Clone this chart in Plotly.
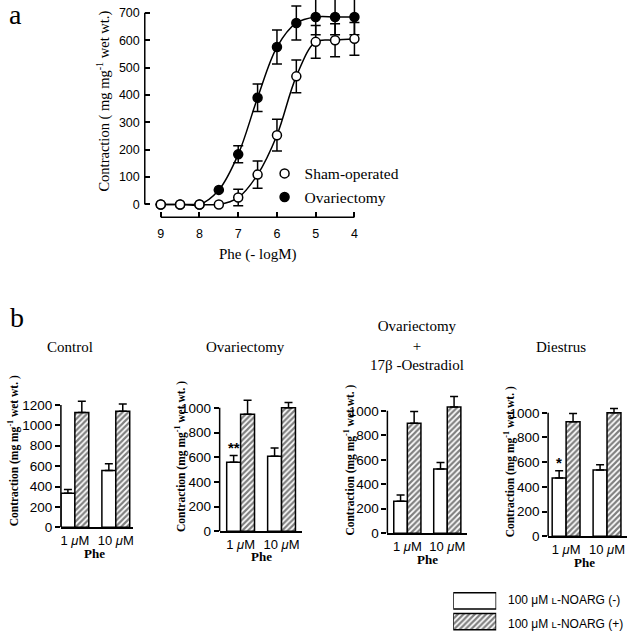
import plotly.graph_objects as go

W, H = 630, 640
SERIF = "Liberation Serif"
SANS = "Liberation Sans"

# ---------------- data: panel a ----------------
phe_log = [9, 8.5, 8, 7.5, 7, 6.5, 6, 5.5, 5, 4.5, 4]
sham = [0, 0, 0, 0, 25, 109, 253, 468, 594, 600, 605]
sham_err = [0, 0, 0, 0, 30, 50, 58, 60, 60, 60, 60]
ovx = [0, 0, 0, 53, 183, 390, 575, 663, 685, 685, 685]
ovx_err = [0, 0, 0, 0, 31, 50, 62, 62, 65, 65, 65]
a_xticks = [9, 8, 7, 6, 5, 4]
a_yticks = [0, 100, 200, 300, 400, 500, 600, 700]

# ---------------- data: panel b ----------------
doses = ["1 μM", "10 μM"]
dose_labels = ["1 <i>μ</i>M", "10 <i>μ</i>M"]
panel_titles = ["Control", "Ovariectomy", "Ovariectomy<br>+<br>17β -Oestradiol", "Diestrus"]
noarg_minus = [[333, 558], [560, 608], [261, 524], [472, 536]]
noarg_minus_err = [[37, 64], [53, 67], [51, 54], [58, 42]]
noarg_plus = [[1125, 1138], [949, 1000], [898, 1030], [928, 1000]]
noarg_plus_err = [[110, 72], [112, 43], [97, 86], [67, 34]]
b_yticks = [[0, 200, 400, 600, 800, 1000, 1200],
            [0, 200, 400, 600, 800, 1000],
            [0, 200, 400, 600, 800, 1000],
            [0, 200, 400, 600, 800, 1000]]
stars = ["", "**", "", "*"]
legend_labels = ["100 μM <span style='font-size:9.5px'>L</span>-NOARG (+)",
                 "100 μM <span style='font-size:9.5px'>L</span>-NOARG (-)"]
swatch_keys = ["(+)", "(-)"]
swatch_vals = [1, 1]


def fx(px):
    return px / W


def fy(py):
    return 1 - py / H


fig = go.Figure()

# ---- panel a: smooth curves through the means ----
for ys in (sham, ovx):
    fig.add_trace(go.Scatter(x=phe_log, y=ys, mode="lines", line=dict(color="black", width=1.5, shape="spline"),
                             showlegend=False, xaxis="x", yaxis="y", hoverinfo="skip"))
fig.add_trace(go.Scatter(x=phe_log, y=ovx, mode="markers", name="Ovariectomy",
                         marker=dict(symbol="circle", size=9, color="black", line=dict(color="black", width=1.5)),
                         error_y=dict(type="data", array=ovx_err, color="black", thickness=1.5, width=5),
                         cliponaxis=False, xaxis="x", yaxis="y", legend="legend2"))
fig.add_trace(go.Scatter(x=phe_log, y=sham, mode="markers", name="Sham-operated",
                         marker=dict(symbol="circle", size=9, color="white", line=dict(color="black", width=1.5)),
                         error_y=dict(type="data", array=sham_err, color="black", thickness=1.5, width=5),
                         cliponaxis=False, xaxis="x", yaxis="y", legend="legend"))

# ---- panel b: bars ----
hatch = dict(shape="/", fgcolor="black", bgcolor="white", size=4, solidity=0.55)
for i in range(4):
    xa = "x%d" % (i + 2)
    ya = "y%d" % (i + 2)
    fig.add_trace(go.Bar(x=doses, y=noarg_minus[i], xaxis=xa, yaxis=ya, showlegend=False,
                         marker=dict(color="white", line=dict(color="black", width=1.5)),
                         error_y=dict(type="data", symmetric=False, array=noarg_minus_err[i], arrayminus=[0, 0],
                                      color="black", thickness=1.5, width=4)))
    fig.add_trace(go.Bar(x=doses, y=noarg_plus[i], xaxis=xa, yaxis=ya, showlegend=False,
                         marker=dict(color="white", line=dict(color="black", width=1.5), pattern=hatch),
                         error_y=dict(type="data", symmetric=False, array=noarg_plus_err[i], arrayminus=[0, 0],
                                      color="black", thickness=1.5, width=4)))

# ---- legend swatches for bars ----
fig.add_trace(go.Bar(x=swatch_vals, y=swatch_keys, orientation="h", xaxis="x6", yaxis="y6", showlegend=False,
                     width=0.78,
                     marker=dict(color="white", line=dict(color="black", width=1.5),
                                 pattern=dict(shape=["/", ""], fgcolor="black", bgcolor="white", size=4,
                                              solidity=0.55)),
                     hoverinfo="skip"))

layout = dict(
    width=W, height=H,
    margin=dict(l=0, r=0, t=0, b=0),
    paper_bgcolor="white", plot_bgcolor="white",
    barmode="group", bargap=0.32, bargroupgap=0,
    font=dict(family=SANS, color="black"),
    xaxis=dict(domain=[fx(145), fx(372)], range=[9.412, 3.562], anchor="y",
               tickmode="array", tickvals=a_xticks, ticks="inside", ticklen=5, tickwidth=1.5, tickcolor="black",
               ticklabelstandoff=7,
               showline=False, showgrid=False, zeroline=False, tickfont=dict(family=SANS, size=12.5)),
    yaxis=dict(domain=[fy(220), 1], range=[-46.9, 747], anchor="x",
               tickmode="array", tickvals=a_yticks, ticks="inside", ticklen=5, tickwidth=1.5, tickcolor="black",
               ticklabelstandoff=4,
               showline=False, showgrid=False, zeroline=False, tickfont=dict(family=SANS, size=12.5)),
    legend=dict(x=fx(265), y=fy(176), xanchor="left", yanchor="middle", bgcolor="rgba(0,0,0,0)",
                font=dict(family=SERIF, size=15.5), itemwidth=30),
    legend2=dict(x=fx(265), y=fy(200), xanchor="left", yanchor="middle", bgcolor="rgba(0,0,0,0)",
                 font=dict(family=SERIF, size=15.5), itemwidth=30),
)

bar_geom = [
    # axis x px, axis end px, zero y px, top-of-range y px, x range, y range
    (61, 133, 534, 399.7, [-0.341, 1.415], [0, 1300]),
    (220, 302, 538, 394.25, [-0.512, 1.488], [0, 1150]),
    (388, 468, 540, 397.4, [-0.5, 1.5], [0, 1150]),
    (549, 628, 543, 399.25, [-0.439, 1.488], [0, 1150]),
]
for i, (x0, x1, yb, yt, xr, yr) in enumerate(bar_geom):
    n = i + 2
    layout["xaxis%d" % n] = dict(domain=[fx(x0), fx(x1)], range=xr, anchor="y%d" % n, type="category",
                                 tickmode="array", tickvals=doses, ticktext=dose_labels,
                                 showline=True, linewidth=1.5, linecolor="black", ticks="", showgrid=False,
                                 zeroline=False, tickfont=dict(family=SANS, size=13))
    layout["yaxis%d" % n] = dict(domain=[fy(yb), fy(yt)], range=yr, anchor="x%d" % n,
                                 tickmode="array", tickvals=b_yticks[i],
                                 showline=False, ticks="outside", ticklen=5,
                                 tickwidth=1.5, tickcolor="black", showgrid=False, zeroline=False,
                                 tickfont=dict(family=SANS, size=13.5))
layout["xaxis6"] = dict(domain=[fx(454), fx(497)], range=[0, 1], anchor="y6", visible=False)
layout["yaxis6"] = dict(domain=[0, fy(598)], range=[-0.5, 1.5], anchor="x6", visible=False, type="category",
                        categoryorder="array", categoryarray=swatch_keys)
fig.update_layout(**layout)

# ---- axis frames ----
fig.add_shape(type="line", xref="x domain", yref="y", x0=0, x1=0, y0=a_yticks[0], y1=a_yticks[-1],
              line=dict(color="black", width=1.5))
fig.add_shape(type="line", xref="x", yref="y domain", x0=a_xticks[0], x1=a_xticks[-1], y0=0, y1=0,
              line=dict(color="black", width=1.5))
for i in range(4):
    n = i + 2
    fig.add_shape(type="line", xref="x%d domain" % n, yref="y%d" % n, x0=0, x1=0,
                  y0=b_yticks[i][0], y1=b_yticks[i][-1], line=dict(color="black", width=1.5))


def note(text, px, py, size, family=SERIF, angle=0, xanchor="center"):
    return dict(text=text, x=fx(px), y=fy(py), xref="paper", yref="paper", showarrow=False,
                xanchor=xanchor, yanchor="middle", textangle=angle, font=dict(family=family, size=size))


ann = []
ann.append(note("a", 16, 15, 28))
ann.append(note("b", 17, 322, 28))
ann.append(note("Contraction ( mg mg<sup>-1</sup> wet wt.)", 104, 102, 14.5, angle=-90))
ann.append(note("Phe (- logM)", 258, 258, 15))

btitle = "<b>Contraction (mg mg<sup>-1</sup> wet wt. )</b>"
title_pos = [(70, 351), (246, 351), (418, 350), (562, 351)]
ytitle_pos = [(13, 456), (181, 462), (350, 466), (510, 468)]
phe_pos = [(95, 561), (262, 564), (428, 567), (585, 570)]
for i in range(4):
    ann.append(note(panel_titles[i], *title_pos[i], 15))
    ann.append(note(btitle, *ytitle_pos[i], 11.5, angle=-90))
    ann.append(note("<b>Phe</b>", *phe_pos[i], 13))
    if stars[i]:
        ann.append(dict(text="<b>" + stars[i] + "</b>", x=doses[0], y=noarg_minus[i][0] + noarg_minus_err[i][0],
                        xref="x%d" % (i + 2), yref="y%d" % (i + 2), showarrow=False, xshift=-7,
                        xanchor="center", yanchor="bottom", yshift=-2, font=dict(family=SANS, size=15)))

ann.append(note(legend_labels[1], 507, 608, 12, family=SANS, xanchor="left"))
ann.append(note(legend_labels[0], 507, 632, 12, family=SANS, xanchor="left"))
fig.update_layout(annotations=ann)

page_fix = ("var d=document.getElementById('{plot_id}');"
            "d.style.position='absolute';d.style.left='0px';d.style.top='0px';"
            "document.body.style.margin='0';document.body.style.overflow='hidden';"
            "document.documentElement.style.overflow='hidden';")
fig.write_html("out.html", config={"displayModeBar": False}, post_script=page_fix)
